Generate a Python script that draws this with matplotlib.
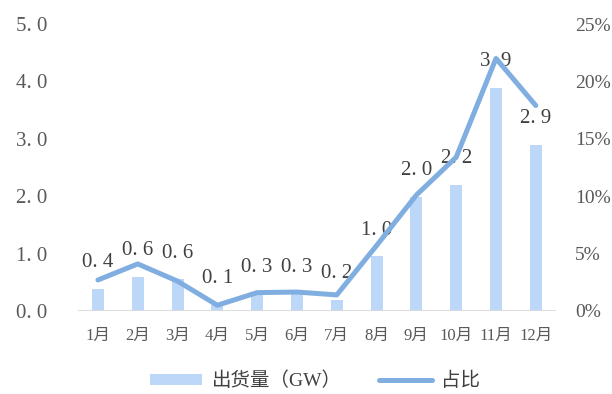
import matplotlib.pyplot as plt
from matplotlib.ticker import FuncFormatter

# monthly shipments (GW) and share (%)
months = ['1月', '2月', '3月', '4月', '5月', '6月', '7月', '8月', '9月', '10月', '11月', '12月']
shipment = [0.38, 0.6, 0.55, 0.1, 0.3, 0.3, 0.2, 0.95, 1.99, 2.2, 3.88, 2.89]
shipment_labels = ['0.4', '0.6', '0.6', '0.1', '0.3', '0.3', '0.2', '1.0', '2.0', '2.2', '3.9', '2.9']
share = [2.7, 4.1, 2.6, 0.5, 1.6, 1.65, 1.4, 5.7, 10.1, 13.4, 22.0, 17.9]

BAR_COLOR = '#BDD7F9'
LINE_COLOR = '#81AEE0'
TXT = '#595959'
FONT = ['Liberation Serif', 'Noto Sans CJK SC']

plt.rcParams['font.family'] = FONT

fig = plt.figure(figsize=(6.12, 3.94), dpi=100)
ax = fig.add_axes([0.1275, 0.2107, 0.7805, 0.7283])
ax2 = ax.twinx()

x = list(range(len(months)))
bars = ax.bar(x, shipment, width=0.3, color=BAR_COLOR, label='出货量（GW）', zorder=2)
ax2.plot(x, share, color=LINE_COLOR, lw=3.6, solid_capstyle='round', label='占比', zorder=3)

for xi, v, s in zip(x, shipment, shipment_labels):
    ax.annotate(s.replace('.', '. '), (xi, v), xytext=(0, 19), textcoords='offset points',
                ha='center', va='center', fontsize=15, color='#404040', zorder=5)

ax.set_xlim(-0.5, 11.5)
ax.set_ylim(0, 5)
ax2.set_ylim(0, 25)
ax.set_yticks([0, 1, 2, 3, 4, 5])
ax.yaxis.set_major_formatter(FuncFormatter(lambda v, p: f'{v:.1f}'.replace('.', '. ')))
ax2.set_yticks([0, 5, 10, 15, 20, 25])
ax2.yaxis.set_major_formatter(FuncFormatter(lambda v, p: f'{v:.0f}%'))
ax.set_xticks(x)
ax.set_xticklabels(months)

for a in (ax, ax2):
    for side in ('top', 'left', 'right', 'bottom'):
        a.spines[side].set_visible(False)
    a.tick_params(length=0, colors=TXT, labelsize=15)
ax.axhline(0, color='#D9D9D9', lw=2, zorder=4)
ax.tick_params(axis='x', labelsize=12, pad=12)
ax.tick_params(axis='y', pad=22)
ax2.tick_params(axis='y', pad=14, labelsize=14)

h1, l1 = ax.get_legend_handles_labels()
h2, l2 = ax2.get_legend_handles_labels()
fig.legend(h1 + h2, l1 + l2, loc='center', bbox_to_anchor=(0.515, 0.033), ncol=2,
           frameon=False, fontsize=14, handlelength=2.7, handleheight=0.45,
           columnspacing=1.9, handletextpad=0.5, labelcolor='#404040')

fig.savefig('out.png', dpi=100)
